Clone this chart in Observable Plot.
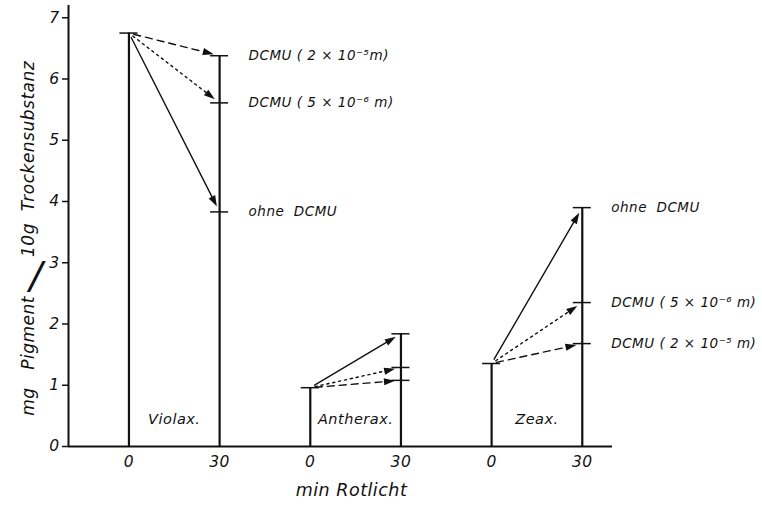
<!DOCTYPE html>
<html>
<head>
<meta charset="utf-8">
<script src="https://cdn.jsdelivr.net/npm/d3@7"></script>
<script src="https://cdn.jsdelivr.net/npm/@observablehq/plot@0.6"></script>
<style>
  html, body { margin: 0; padding: 0; background: #fff; }
  svg text { font-style: italic; letter-spacing: 0.5px; }
</style>
</head>
<body>
<div id="chart"></div>
<script>
// ---- data ----
const groups = ["Violax.", "Antherax.", "Zeax."];
const times = [0, 30];
const startValues = [6.75, 0.96, 1.355];          // at 0 min
const treatments = ["2e-5", "5e-6", "ohne"];
const endViolax = [6.38, 5.61, 3.83];             // at 30 min, per treatment
const endAntherax = [1.08, 1.29, 1.84];
const endZeax = [1.68, 2.35, 3.90];
const endValues = [endViolax, endAntherax, endZeax];
const violaxLabels = ["DCMU ( 2 × 10\u207B\u2075m)", "DCMU ( 5 × 10\u207B\u2076 m)", "ohne\u00A0\u00A0DCMU"];
const antheraxLabels = [null, null, null];
const zeaxLabels = ["DCMU ( 2 × 10\u207B\u2075 m)", "DCMU ( 5 × 10\u207B\u2076 m)", "ohne\u00A0\u00A0DCMU"];
const seriesLabels = [violaxLabels, antheraxLabels, zeaxLabels];
const yTicks = [0, 1, 2, 3, 4, 5, 6, 7];
const xTicks = [0, 30, 60, 90, 120, 150];

// ---- derived tables ----
const xOf = (g, t) => g * 60 + t;
const bars = [];
const caps = [];
const arrows = [];
const endLabels = [];
groups.forEach((name, g) => {
  bars.push({x: xOf(g, times[0]), v: startValues[g]});
  bars.push({x: xOf(g, times[1]), v: d3.max(endValues[g])});
  caps.push({x: xOf(g, times[0]), v: startValues[g]});
  endValues[g].forEach((v, k) => {
    caps.push({x: xOf(g, times[1]), v});
    arrows.push({x1: xOf(g, times[0]), y1: startValues[g], x2: xOf(g, times[1]), y2: v, treatment: treatments[k]});
    if (seriesLabels[g][k]) endLabels.push({x: xOf(g, times[1]), v, text: seriesLabels[g][k]});
  });
});
const groupLabels = groups.map((name, g) => ({x: xOf(g, 15), name}));

const dashOf = {"2e-5": "7,5", "5e-6": "2.2,3.8", "ohne": null};

const font = "DejaVu Sans, Verdana, sans-serif";
const base = {
  width: 762,
  height: 508,
  marginLeft: 68,
  marginRight: 150,
  marginTop: 5,
  marginBottom: 62,
  style: {fontFamily: font, fontSize: "15.5px", color: "#111", background: "#fff", overflow: "visible"},
  x: {domain: [-20, 160], ticks: xTicks, tickFormat: d => String(d % 60), tickSize: 0, tickPadding: 9, label: null},
  y: {domain: [0, 7.2], ticks: yTicks, tickSize: 6, tickPadding: 3, label: null}
};

// first pass: get the library's own scales to orient the arrow heads
const probe = Plot.plot({...base, marks: [Plot.ruleY([0])]});
const sx = probe.scale("x"), sy = probe.scale("y");
const kx = sx.apply(1) - sx.apply(0);
const ky = sy.apply(1) - sy.apply(0);
const tipInset = 6;
const heads = arrows.map(a => {
  const px = (sx.apply(a.x2) - sx.apply(a.x1));
  const py = (sy.apply(a.y2) - sy.apply(a.y1));
  const len = Math.hypot(px, py);
  const ux = px / len, uy = py / len;
  return {
    x: a.x2 - tipInset * ux / kx,
    y: a.y2 - tipInset * uy / ky,
    angle: Math.atan2(ux, -uy) * 180 / Math.PI,
    treatment: a.treatment
  };
});

const arrowHead = {
  draw(ctx) {
    ctx.moveTo(0, 0);
    ctx.lineTo(3.6, 11);
    ctx.lineTo(-3.6, 11);
    ctx.closePath();
  }
};

const shaft = (t) => Plot.arrow(arrows.filter(a => a.treatment === t), {
  x1: "x1", y1: "y1", x2: "x2", y2: "y2",
  headLength: 0, insetStart: 5, insetEnd: tipInset + 8,
  stroke: "#111", strokeWidth: 1.4,
  strokeDasharray: dashOf[t] || undefined
});

const chart = Plot.plot({
  ...base,
  marks: [
    Plot.ruleY([0], {stroke: "#111", strokeWidth: 2}),
    Plot.ruleX([-20], {stroke: "#111", strokeWidth: 2}),
    Plot.ruleX(bars, {x: "x", y1: 0, y2: "v", stroke: "#111", strokeWidth: 2.2}),
    Plot.ruleY(caps, {y: "v", x1: "x", x2: "x", insetLeft: -9, insetRight: -9, stroke: "#111", strokeWidth: 1.5}),
    ...treatments.map(shaft),
    Plot.dot(heads, {x: "x", y: "y", rotate: "angle", symbol: arrowHead, fill: "#111", stroke: "none"}),
    Plot.text(endLabels, {x: "x", y: "v", text: "text", dx: 29, textAnchor: "start", fontSize: 13.5, fill: "#111"}),
    Plot.text(groupLabels, {x: "x", frameAnchor: "bottom", dy: -23, text: "name", fontSize: 14.5, fill: "#111"}),
    Plot.text(["min Rotlicht"], {frameAnchor: "bottom", dx: 11, dy: 49, fontSize: 17.5, fill: "#111"}),
    Plot.text(["mg\u00A0\u00A0\u00A0Pigment"], {frameAnchor: "left", rotate: -90, dx: -40, dy: 70, textAnchor: "end", fontSize: 17, fill: "#111"}),
    Plot.text(["/"], {frameAnchor: "left", dx: -39, dy: 50, fontSize: 38, fill: "#111"}),
    Plot.text(["10g\u00A0\u00A0Trockensubstanz"], {frameAnchor: "left", rotate: -90, dx: -40, dy: 31, textAnchor: "start", fontSize: 17, fill: "#111"})
  ]
});
chart.querySelectorAll("g[aria-label='y-axis tick'], g[aria-label='y-axis tick'] path").forEach(e => e.setAttribute("stroke-width", "1.5"));
document.getElementById("chart").appendChild(chart);
</script>
</body>
</html>
